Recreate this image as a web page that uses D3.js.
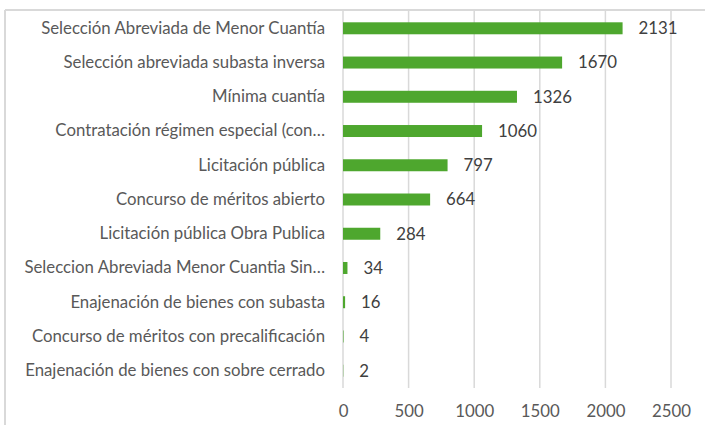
<!DOCTYPE html>
<html>
<head>
<meta charset="utf-8">
<script src="https://cdn.jsdelivr.net/npm/d3@7"></script>
<style>
  body { margin: 0; background: #fff; }
  svg { display: block; }
</style>
</head>
<body>
<div id="chart"></div>
<script>
// categories, top to bottom as shown
var categories = [
    "Selección Abreviada de Menor Cuantía",
    "Selección abreviada subasta inversa",
    "Mínima cuantía",
    "Contratación régimen especial (con…",
    "Licitación pública",
    "Concurso de méritos abierto",
    "Licitación pública Obra Publica",
    "Seleccion Abreviada Menor Cuantia Sin…",
    "Enajenación de bienes con subasta",
    "Concurso de méritos con precalificación",
    "Enajenación de bienes con sobre cerrado"
];
var counts = [2131, 1670, 1326, 1060, 797, 664, 284, 34, 16, 4, 2];
var xTicks = [0, 500, 1000, 1500, 2000, 2500];

var W = 705, H = 425;
var margin = { top: 11, right: 34, bottom: 37, left: 343 },
    width = W - margin.left - margin.right,
    height = H - margin.top - margin.bottom;
var font = "Lato, sans-serif", fontSize = 16.8;

var svg = d3.select("#chart")
    .append("svg")
    .attr("width", W)
    .attr("height", H);

// chart frame (only top and left edges visible in the crop)
svg.append("line")
    .attr("x1", 5).attr("x2", W).attr("y1", 10).attr("y2", 10)
    .attr("stroke", "#d9d9d9").attr("stroke-width", 2);
svg.append("line")
    .attr("x1", 5).attr("x2", 5).attr("y1", 10).attr("y2", H)
    .attr("stroke", "#d9d9d9").attr("stroke-width", 2);

var g = svg.append("g")
    .attr("transform", "translate(" + margin.left + "," + margin.top + ")");

var x = d3.scaleLinear().domain([0, 2500]).range([0, width]);
var y = d3.scaleBand().domain(categories).range([0, height]).paddingInner(0.65).paddingOuter(0.33);

// vertical gridlines
g.selectAll(".grid")
    .data(xTicks)
    .enter().append("line")
    .attr("x1", function (d) { return x(d); })
    .attr("x2", function (d) { return x(d); })
    .attr("y1", 0)
    .attr("y2", height)
    .attr("stroke", "#d9d9d9")
    .attr("stroke-width", 1.5);

// x axis labels
var xAxis = g.append("g")
    .attr("transform", "translate(0," + height + ")")
    .call(d3.axisBottom(x).tickValues(xTicks).tickFormat(d3.format("d")).tickSize(0).tickPadding(17));
xAxis.select(".domain").remove();
xAxis.selectAll("text")
    .attr("font-family", font)
    .attr("font-size", fontSize)
    .attr("fill", "#595959");

// category labels
var yAxis = g.append("g")
    .call(d3.axisLeft(y).tickSize(0).tickPadding(18));
yAxis.select(".domain").remove();
yAxis.selectAll("text")
    .attr("font-family", font)
    .attr("font-size", fontSize)
    .attr("fill", "#595959");

// bars
g.selectAll(".bar")
    .data(counts)
    .enter().append("rect")
    .attr("x", x(0))
    .attr("y", function (d, i) { return y(categories[i]); })
    .attr("width", function (d) { return x(d) - x(0); })
    .attr("height", y.bandwidth())
    .attr("fill", "#4ea72e");

// value labels
g.selectAll(".val")
    .data(counts)
    .enter().append("text")
    .attr("x", function (d) { return x(d) + 16; })
    .attr("y", function (d, i) { return y(categories[i]) + y.bandwidth() / 2; })
    .attr("dy", "0.35em")
    .attr("font-family", font)
    .attr("font-size", fontSize)
    .attr("fill", "#404040")
    .text(function (d) { return d; });
</script>
</body>
</html>
